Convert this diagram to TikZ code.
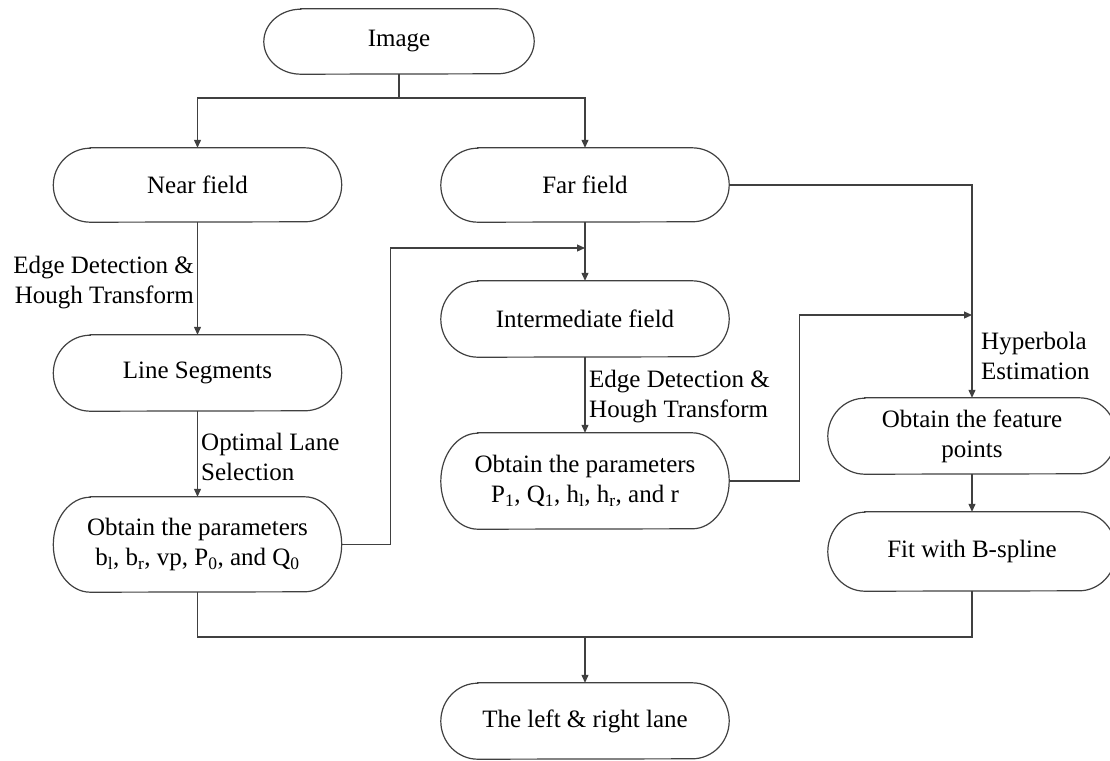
\documentclass[tikz,border=0pt]{standalone}
\usepackage{fontspec}
\setmainfont{Liberation Serif}
\usetikzlibrary{arrows.meta,calc}
\definecolor{ln}{HTML}{404040}
\newcommand\lblfont{\fontsize{25}{30}\selectfont}
\tikzset{
  conn/.style={draw=ln, line width=1.2pt},
  arr/.style={conn, -{Triangle[length=8pt,width=7pt]}},
  bord/.style={draw=ln, line width=1.2pt},
  boxtext/.style={inner sep=0pt, align=center, font=\lblfont},
  lab/.style={inner sep=0pt, font=\lblfont}
}
\newcommand\termbox[5]{%
  \node[boxtext, minimum width=#3pt, minimum height=#4pt] (#1) at #2 {#5};
  \draw[bord] ($(#1.north west)+(37,0)$) -- ($(#1.north east)+(-37,0)$)
     arc[start angle=90, end angle=-90, x radius=37pt, y radius={#4pt/2}]
     -- ($(#1.south west)+(37,0)$)
     arc[start angle=270, end angle=90, x radius=37pt, y radius={#4pt/2}] -- cycle;
}
\begin{document}
\begin{tikzpicture}[x=1pt,y=-1pt]
\useasboundingbox (0,0) rectangle (1110,760);
\termbox{img}{(399,41.5)}{270}{65}{Image}
\termbox{near}{(197.5,185)}{288}{74}{Near field}
\termbox{far}{(585,185)}{288}{74}{Far field}
\termbox{seg}{(197.5,373)}{288}{76}{Line Segments}
\termbox{lpar}{(197.5,544.5)}{288}{95}{Obtain the parameters\\b\textsubscript{l}, b\textsubscript{r}, vp, P\textsubscript{0}, and Q\textsubscript{0}}
\termbox{inter}{(585,319)}{288}{76}{Intermediate field}
\termbox{mpar}{(585,481)}{288}{96}{Obtain the parameters\\P\textsubscript{1}, Q\textsubscript{1}, h\textsubscript{l}, h\textsubscript{r}, and r}
\termbox{feat}{(972,436)}{288}{76}{Obtain the feature\\points}
\termbox{fit}{(972,551.5)}{288}{79}{Fit with B-spline}
\termbox{final}{(585,721)}{288}{76}{The left \& right lane}

\node[lab, align=right, anchor=east] (l1) at (194,283) {Edge Detection \&\\Hough Transform};
\node[lab, align=left, anchor=west] (l2) at (201,457) {Optimal Lane\\Selection};
\node[lab, align=left, anchor=west] (l3) at (589,397) {Edge Detection \&\\Hough Transform};
\node[lab, align=left, anchor=west] (l4) at (981,356) {Hyperbola\\Estimation};

\coordinate (j1) at (399,98);
\coordinate (m1) at (585,248);
\coordinate (m2) at (972,315);
\coordinate (jb) at (585,637);

\draw[conn] (img.south) -- (j1);
\draw[arr] (j1) -| (near.north);
\draw[arr] (j1) -| (far.north);
\draw[arr] (near.south) -- (seg.north);
\draw[arr] (seg.south) -- (lpar.north);
\draw[arr] (lpar.east) -- ++(49,0) |- (m1);
\draw[arr] (far.south) -- (inter.north);
\draw[arr] (inter.south) -- (mpar.north);
\draw[arr] (mpar.east) -- ++(70,0) |- (m2);
\draw[arr] (far.east) -| (feat.north);
\draw[arr] (feat.south) -- (fit.north);
\draw[conn] (lpar.south) |- (jb) -| (fit.south);
\draw[arr] (jb) -- (final.north);
\end{tikzpicture}
\end{document}
